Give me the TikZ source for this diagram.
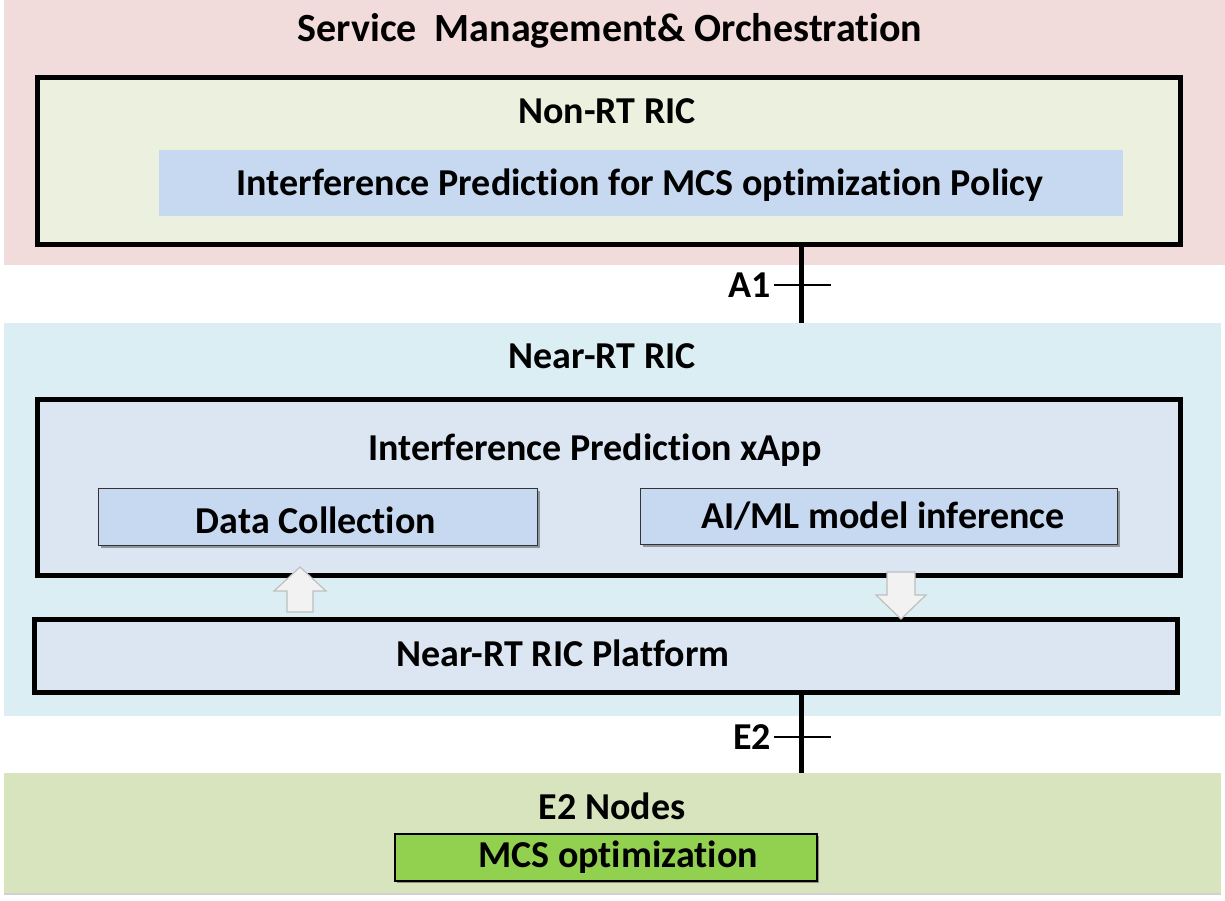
\documentclass[tikz,border=0pt]{standalone}
\usepackage{fontspec}
\setmainfont[Ligatures=NoCommon]{Carlito}
\usetikzlibrary{shadows}
\definecolor{smo}{HTML}{F2DCDB}
\definecolor{nonrtfill}{HTML}{EBF1DE}
\definecolor{polfill}{HTML}{C6D9F1}
\definecolor{nearfill}{HTML}{DAEEF3}
\definecolor{xappfill}{HTML}{DCE6F2}
\definecolor{e2fill}{HTML}{D7E4BD}
\definecolor{mcsfill}{HTML}{92D050}
\definecolor{arrfill}{HTML}{F2F2F2}
\definecolor{arrline}{HTML}{BFBFBF}
\tikzset{
  txt/.style={font=\bfseries\fontsize{38}{44}\selectfont, inner sep=0pt},
  band/.style={draw=none, inner sep=0pt, anchor=north west},
  bigbox/.style={draw=black, line width=4.5pt, inner sep=0pt, anchor=north west},
  smallbox/.style={draw=black!80, line width=1.3pt, fill=polfill, inner sep=0pt, anchor=north west,
     drop shadow={shadow xshift=2pt, shadow yshift=-2pt, opacity=0.35, fill=black}},
  iface/.style={line width=5pt},
  tick/.style={line width=2.5pt},
  barrow/.style={fill=arrfill, draw=arrline, line width=1.2pt, line join=miter}
}
\begin{document}
\begin{tikzpicture}[x=1pt,y=-1pt]
\useasboundingbox (0,0) rectangle (1225,900);
% bands
\node[band, fill=smo, minimum width=1221, minimum height=265] (smoband) at (4,0) {};
\node[band, fill=nearfill, minimum width=1217, minimum height=393] (nearband) at (4,323) {};
\node[band, fill=e2fill, minimum width=1217, minimum height=120,
  drop shadow={shadow xshift=0pt, shadow yshift=-2pt, opacity=0.18, fill=black}] (e2band) at (4,773) {};
\node[txt, font=\bfseries\fontsize{40}{46}\selectfont] (smotitle) at (610,31) {Service\ \ Management\& Orchestration};
% Non-RT RIC
\node[bigbox, fill=nonrtfill, minimum width=1143, minimum height=167] (nonrt) at (35,75) {};
\node[txt] (nonrtlabel) at (607,111) {Non-RT RIC};
\node[band, fill=polfill, minimum width=964, minimum height=66] (policy) at (159,150) {};
\node[txt] (policylabel) at (640,185) {Interference Prediction for MCS optimization Policy};
% Near-RT RIC
\node[txt] (nearlabel) at (602,356) {Near-RT RIC};
\node[bigbox, fill=xappfill, minimum width=1143, minimum height=176] (xapp) at (35,397) {};
\node[txt] (xapplabel) at (595,450) {Interference Prediction xApp};
\node[smallbox, minimum width=439, minimum height=57] (dc) at (98,488) {};
\node[txt] (dclabel) at (316,520) {Data Collection};
\node[smallbox, minimum width=477, minimum height=56] (aiml) at (640,488) {};
\node[txt] (aimllabel) at (883,516) {AI/ML model inference};
\node[bigbox, fill=xappfill, minimum width=1143, minimum height=73] (platform) at (32,617) {};
\node[txt] (platlabel) at (563,653) {Near-RT RIC Platform};
% E2 nodes
\node[txt] (e2label) at (612,806) {E2 Nodes};
\node[smallbox, draw=black, line width=2pt, fill=mcsfill, minimum width=422, minimum height=47] (mcs) at (394,833) {};
\node[txt] (mcslabel) at (618,857) {MCS optimization};
% block arrows
\coordinate (uptip) at (300,567);
\draw[barrow] (uptip) -- ++(26,24) -- ++(-13,0) -- ++(0,21) -- ++(-26,0) -- ++(0,-21) -- ++(-13,0) -- cycle;
\coordinate (downtip) at (901,619);
\draw[barrow] (downtip) -- ++(25,-24) -- ++(-11,0) -- ++(0,-23) -- ++(-28,0) -- ++(0,23) -- ++(-11,0) -- cycle;
% interfaces
\coordinate (a1) at (801,285);
\draw[iface] (a1 |- nonrt.south) -- (a1 |- nearband.north);
\draw[tick] ([xshift=-27pt]a1) -- ([xshift=30pt]a1);
\node[txt, anchor=east] (a1label) at ([xshift=-30pt]a1) {A1};
\coordinate (e2) at (801,737);
\draw[iface] (e2 |- platform.south) -- (e2 |- e2band.north);
\draw[tick] ([xshift=-27pt]e2) -- ([xshift=30pt]e2);
\node[txt, anchor=east] (e2ilabel) at ([xshift=-30pt]e2) {E2};
\end{tikzpicture}
\end{document}
